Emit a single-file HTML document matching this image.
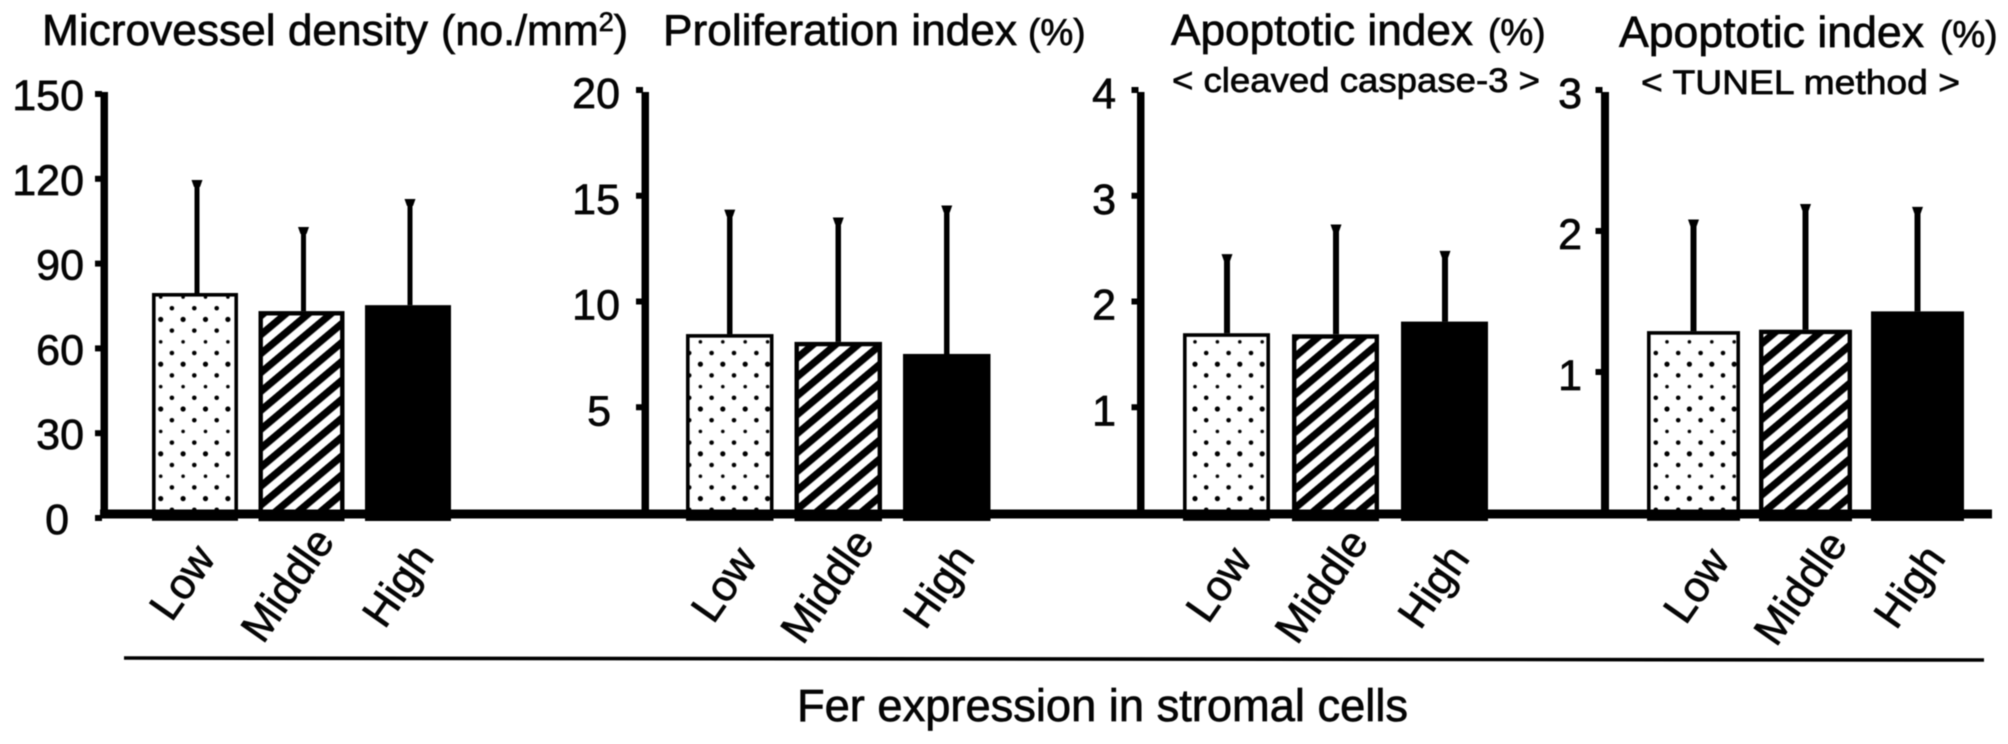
<!DOCTYPE html>
<html lang="en">
<head>
<meta charset="utf-8">
<title>Fer expression in stromal cells</title>
<style>
html,body{margin:0;padding:0;background:#fff;width:2008px;height:744px;overflow:hidden}
svg{display:block;filter:blur(0.55px)}
text{font-family:"Liberation Sans",Arial,sans-serif;fill:#050505;stroke:#050505;stroke-width:.7px}
</style>
</head>
<body>
<svg id="chart" xmlns="http://www.w3.org/2000/svg" width="2008" height="744" viewBox="0 0 2008 744">
  <defs>
    <pattern id="dots-0" width="22.4" height="44.8" patternUnits="userSpaceOnUse" x="160.7" y="297"><circle cx="0" cy="0" r="1.8"/><circle cx="22.4" cy="0" r="1.8"/><circle cx="0" cy="44.8" r="1.8"/><circle cx="22.4" cy="44.8" r="1.8"/><circle cx="0" cy="22.4" r="2.6"/><circle cx="22.4" cy="22.4" r="2.6"/><circle cx="11.2" cy="11.2" r="2.3"/><circle cx="11.2" cy="33.6" r="2.3"/></pattern>
    <pattern id="dots-1" width="22.4" height="44.8" patternUnits="userSpaceOnUse" x="700.4" y="297"><circle cx="0" cy="0" r="1.8"/><circle cx="22.4" cy="0" r="1.8"/><circle cx="0" cy="44.8" r="1.8"/><circle cx="22.4" cy="44.8" r="1.8"/><circle cx="0" cy="22.4" r="2.6"/><circle cx="22.4" cy="22.4" r="2.6"/><circle cx="11.2" cy="11.2" r="2.3"/><circle cx="11.2" cy="33.6" r="2.3"/></pattern>
    <pattern id="dots-2" width="22.4" height="44.8" patternUnits="userSpaceOnUse" x="1195" y="297"><circle cx="0" cy="0" r="1.8"/><circle cx="22.4" cy="0" r="1.8"/><circle cx="0" cy="44.8" r="1.8"/><circle cx="22.4" cy="44.8" r="1.8"/><circle cx="0" cy="22.4" r="2.6"/><circle cx="22.4" cy="22.4" r="2.6"/><circle cx="11.2" cy="11.2" r="2.3"/><circle cx="11.2" cy="33.6" r="2.3"/></pattern>
    <pattern id="dots-3" width="22.4" height="44.8" patternUnits="userSpaceOnUse" x="1667" y="297"><circle cx="0" cy="0" r="1.8"/><circle cx="22.4" cy="0" r="1.8"/><circle cx="0" cy="44.8" r="1.8"/><circle cx="22.4" cy="44.8" r="1.8"/><circle cx="0" cy="22.4" r="2.6"/><circle cx="22.4" cy="22.4" r="2.6"/><circle cx="11.2" cy="11.2" r="2.3"/><circle cx="11.2" cy="33.6" r="2.3"/></pattern>
    <pattern id="stripes" width="14.5" height="14.5" patternUnits="userSpaceOnUse" patternTransform="rotate(-40)"><rect x="0" y="0" width="14.5" height="7.2" fill="#000"/></pattern>
  </defs>

  <text x="42" y="45" font-size="44" textLength="386" lengthAdjust="spacingAndGlyphs">Microvessel density</text>
  <text x="441" y="45" font-size="43">(no./mm<tspan dy="-14" font-size="27">2</tspan><tspan dy="14">)</tspan></text>

  <text x="663" y="45" font-size="44" textLength="354" lengthAdjust="spacingAndGlyphs">Proliferation index</text>
  <text x="1028" y="45" font-size="37">(%)</text>

  <text x="1171" y="45" font-size="44" textLength="302" lengthAdjust="spacingAndGlyphs">Apoptotic index</text>
  <text x="1488" y="45" font-size="37">(%)</text>
  <text x="1172" y="92" font-size="34" textLength="368" lengthAdjust="spacingAndGlyphs">&lt; cleaved caspase-3 &gt;</text>

  <text x="1619" y="47" font-size="44" textLength="305" lengthAdjust="spacingAndGlyphs">Apoptotic index</text>
  <text x="1940" y="47" font-size="37">(%)</text>
  <text x="1641" y="94" font-size="34" textLength="319" lengthAdjust="spacingAndGlyphs">&lt; TUNEL method &gt;</text>

  <g id="panels"></g>

  <rect x="100" y="509.5" width="1892" height="9" fill="#000"/>
  <line x1="124" y1="658" x2="1984" y2="660" stroke="#000" stroke-width="3.6"/>
  <text x="797" y="721" font-size="45" textLength="611" lengthAdjust="spacingAndGlyphs">Fer expression in stromal cells</text>
</svg>
<script>
const categories = ['Low', 'Middle', 'High'];

const densityMeans = [79.6, 73.2, 75.3];
const densityErrorTops = [118.5, 101.9, 111.8];
const densityTicks = [0, 30, 60, 90, 120, 150];

const proliferationMeans = [8.46, 8.09, 7.52];
const proliferationErrorTops = [14.2, 13.83, 14.4];
const proliferationTicks = [5, 10, 15, 20];

const caspaseMeans = [1.70, 1.69, 1.81];
const caspaseErrorTops = [2.42, 2.70, 2.45];
const caspaseTicks = [1, 2, 3, 4];

const tunelMeans = [1.29, 1.30, 1.43];
const tunelErrorTops = [2.06, 2.17, 2.15];
const tunelTicks = [1, 2, 3];

const NS = 'http://www.w3.org/2000/svg';
const root = document.getElementById('panels');

function make(tag, attrs, parent) {
  const el = document.createElementNS(NS, tag);
  for (const k in attrs) el.setAttribute(k, attrs[k]);
  parent.appendChild(el);
  return el;
}

function drawPanel(name, means, errorTops, ticks, layout, index) {
  const g = make('g', {}, root);
  
  

  const yMax = ticks[ticks.length - 1];
  const yScale = function (v) { return layout.y0 - v * (layout.y0 - layout.yTop) / yMax; };
  const xScale = function (i) { return layout.left + i * layout.step; };
  const fills = ['url(#dots-' + index + ')', 'url(#stripes)', '#000'];
  const borders = [3.6, 4.4, 4];

  categories.forEach(function (cat, i) {
    const x = xScale(i);
    const top = yScale(means[i]);
    const b = borders[i];

    const bg = make('rect', { x: x, y: top, width: layout.width, height: 519 - top, fill: '#fff' }, g);
    
    

    const bar = make('rect', {
      x: x + b / 2, y: top + b / 2, width: layout.width - b, height: 519 - top - b / 2,
      fill: fills[i], stroke: '#000', 'stroke-width': b
    }, g);
    
    

    const cx = x + layout.width / 2 + layout.errorDx;
    const errTop = yScale(errorTops[i]);
    const err = make('line', { x1: cx, x2: cx, y1: top, y2: errTop, stroke: '#000', 'stroke-width': layout.errorWidth }, g);
    
    

    const cap = make('path', {
      d: 'M' + (cx - 5.5) + ' ' + (errTop - 3) + 'H' + (cx + 5.5) + 'L' + (cx + 3) + ' ' + (errTop + 4) + 'H' + (cx - 3) + 'Z',
      fill: '#000'
    }, g);
    
    

    const lx = x + layout.width / 2 + layout.labelDx[i] - 1.5;
    const ly = layout.labelY[i] + 1;
    const label = make('text', {
      x: lx, y: ly, 'font-size': 43,
      transform: 'rotate(-55 ' + lx + ' ' + ly + ')'
    }, g);
    label.textContent = cat;
    
    
  });

  const axis = make('rect', { x: layout.axisX, y: 92, width: layout.axisW, height: 426, fill: '#000' }, g);
  
  

  ticks.forEach(function (v) {
    const y = yScale(v);
    const stub = make('rect', { x: layout.axisX - 5.5, y: y - 3, width: 7, height: 6, fill: '#000' }, g);
    
    

    const str = String(v);
    const shift = str.length === 1 ? layout.singleShift : 0;
    const t = make('text', {
      x: layout.labelX + shift, y: y + layout.baseline,
      'font-size': 43, 'text-anchor': 'end'
    }, g);
    t.textContent = str;
    
    
  });
}

drawPanel('microvessel', densityMeans, densityErrorTops, densityTicks, {
  left: 152, step: 106.5, width: 86, y0: 518, yTop: 94, axisX: 100.5, axisW: 7.5,
  labelX: 84, singleShift: -15, baseline: 16, errorDx: 2, errorWidth: 5,
  labelDx: [-22, -37, -22], labelY: [622, 644, 629]
}, 0);

drawPanel('proliferation', proliferationMeans, proliferationErrorTops, proliferationTicks, {
  left: 686, step: 108.5, width: 87.5, y0: 513, yTop: 90, axisX: 641.5, axisW: 7.5,
  labelX: 620, singleShift: -9, baseline: 18, errorDx: 0, errorWidth: 5.5,
  labelDx: [-15, -34, -20], labelY: [624, 645, 630]
}, 1);

drawPanel('apoptotic-caspase', caspaseMeans, caspaseErrorTops, caspaseTicks, {
  left: 1183, step: 109, width: 87, y0: 513, yTop: 90, axisX: 1137, axisW: 7.5,
  labelX: 1116, singleShift: 0, baseline: 18, errorDx: 0.5, errorWidth: 6,
  labelDx: [-17, -37, -23], labelY: [624, 645, 630]
}, 2);

drawPanel('apoptotic-tunel', tunelMeans, tunelErrorTops, tunelTicks, {
  left: 1647, step: 112, width: 93, y0: 513, yTop: 90, axisX: 1601, axisW: 8,
  labelX: 1582, singleShift: 0, baseline: 18, errorDx: 0, errorWidth: 6,
  labelDx: [-6.5, -28, -20], labelY: [625, 647, 630]
}, 3);
</script>
</body>
</html>
